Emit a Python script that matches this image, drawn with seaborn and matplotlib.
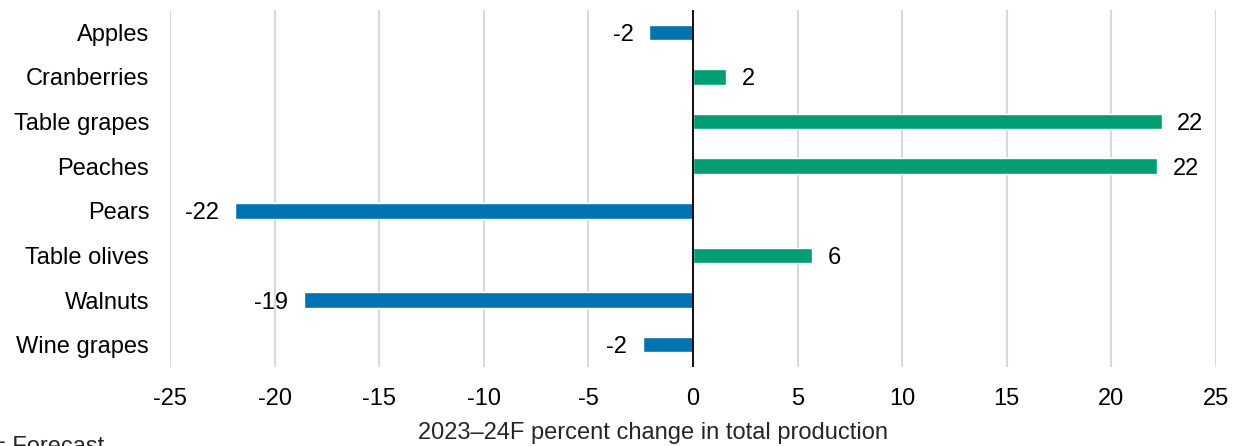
import matplotlib
matplotlib.use("Agg")
import matplotlib.pyplot as plt
import seaborn as sns
import pandas as pd

# Projected 2023-24 production change by crop (percent)
crops = ["Apples", "Cranberries", "Table grapes", "Peaches", "Pears",
         "Table olives", "Walnuts", "Wine grapes"]
pct_change = [-2.1, 1.6, 22.4, 22.2, -21.9, 5.7, -18.6, -2.4]
x_ticks = [-25, -20, -15, -10, -5, 0, 5, 10, 15, 20, 25]

sns.set_theme(style="white")
plt.rcParams["font.family"] = ["Liberation Sans", "DejaVu Sans"]

pal = sns.color_palette("colorblind")
blue, green = pal[0], pal[2]

df = pd.DataFrame({"crop": crops, "pct": pct_change})
df["dir"] = ["up" if v >= 0 else "down" for v in df["pct"]]

FS = 17

fig = plt.figure(figsize=(12.38, 4.46), dpi=100)
ax = fig.add_axes([170 / 1238, 1 - 367 / 446, (1216 - 170) / 1238, 357 / 446])

sns.barplot(data=df, x="pct", y="crop", hue="dir", order=crops,
            palette={"up": green, "down": blue}, width=0.35, saturation=1,
            dodge=False, legend=False, ax=ax, orient="h")

ax.set_xlim(-25, 25)
ax.set_ylim(len(crops) - 0.5, -0.5)
ax.set_xticks(x_ticks)
ax.set_xticklabels([str(t) for t in x_ticks])
for t in x_ticks:
    ax.axvline(t, color="#d9d9d9", lw=1.5, zorder=0)
ax.axvline(0, color="black", lw=1.3, zorder=3)
for s in ax.spines.values():
    s.set_visible(False)

ax.tick_params(axis="both", length=0, labelsize=FS, colors="black")
ax.tick_params(axis="x", pad=15)
ax.tick_params(axis="y", pad=15)
ax.set_ylabel("")
ax.set_xlabel("2023\u201324F percent change in total production", fontsize=FS)
ax.xaxis.set_label_coords(0.4618, -0.155, transform=ax.transAxes)
ax.xaxis.label.set_va("top")

for i, v in enumerate(pct_change):
    off = 0.75 if v >= 0 else -0.75
    ax.text(v + off, i, f"{v:.0f}", va="center_baseline",
            ha="left" if v >= 0 else "right", fontsize=FS, color="black")

fig.text(-29 / 1238, 10 / 446, "F = Forecast", va="top", ha="left", fontsize=FS)

fig.savefig("out.png", dpi=100)
